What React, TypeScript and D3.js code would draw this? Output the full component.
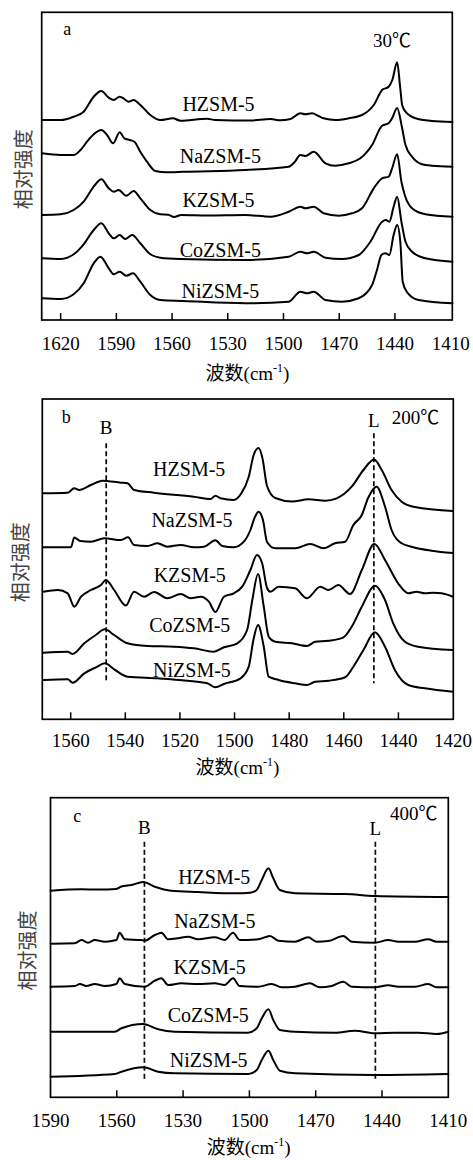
import React from "react";
import * as d3 from "d3";

type Pt = [number, number]; // [wavenumber cm-1, absorbance a.u. above the stacking offset]

const samples = ["HZSM-5", "NaZSM-5", "KZSM-5", "CoZSM-5", "NiZSM-5"];

// ---------- 30 ℃ ----------
const h30: Pt[] = [
  [1630, 0], [1620, 0], [1613, 0.033], [1607.6, 0.083], [1602.2, 0.233], [1598.1, 0.29], [1594.1, 0.223],
  [1591.4, 0.2], [1588.2, 0.233], [1585.7, 0.21], [1583.4, 0.183], [1580.7, 0.2], [1577.1, 0.15], [1571.7, 0.05],
  [1566.4, 0], [1559.5, 0.017], [1555.5, -0.007], [1541.1, 0.013], [1536.7, 0], [1517.9, -0.005], [1507, 0.01],
  [1501.7, -0.003], [1496.3, 0.01], [1490.9, 0.067], [1488.2, 0.057], [1484.6, 0.067], [1481.2, 0.04],
  [1478.4, 0.017], [1472.1, 0], [1464.9, 0.017], [1457.7, 0.05], [1451.4, 0.15], [1446.9, 0.3], [1443.4, 0.333],
  [1441.4, 0.4], [1438.8, 0.577], [1437.3, 0.35], [1436.1, 0.15], [1434.3, 0.083], [1429, 0.017], [1420, -0.01],
  [1409, -0.02],
];
const na30: Pt[] = [
  [1630, 0.017], [1620, 0], [1613, 0], [1609.3, 0.05], [1605.8, 0.133], [1602.2, 0.207], [1598.1, 0.25],
  [1595, 0.2], [1591.8, 0.117], [1588.2, 0.227], [1585.7, 0.167], [1582.8, 0.15], [1580.3, 0.133], [1577.1, 0.033],
  [1573.5, -0.067], [1569, -0.16], [1562.8, -0.173], [1553.7, -0.167], [1520.5, -0.15], [1497.2, -0.117],
  [1494, -0.07], [1490.9, 0], [1488.2, -0.01], [1483.7, 0.033], [1477.4, -0.083], [1472.1, -0.107],
  [1464.9, -0.083], [1458.6, -0.033], [1452.3, 0.1], [1446.9, 0.293], [1443.4, 0.317], [1441.5, 0.367],
  [1438.8, 0.47], [1436.1, 0.267], [1434.3, 0.1], [1430.8, -0.017], [1425.4, -0.093], [1420, -0.107],
  [1409, -0.117],
];
const k30: Pt[] = [
  [1630, 0], [1620, 0.007], [1613, 0.05], [1607.6, 0.133], [1602.2, 0.283], [1598.1, 0.357], [1594.1, 0.267],
  [1591.4, 0.233], [1588.8, 0.25], [1584.6, 0.193], [1580.7, 0.24], [1577.1, 0.167], [1571.7, 0.05],
  [1566.4, 0.007], [1562, 0.003], [1559, -0.02], [1555, 0], [1541, -0.005], [1520.5, 0], [1507, -0.017],
  [1497.2, 0.033], [1490.9, 0.083], [1488.2, 0.067], [1483.7, 0.083], [1478.4, 0.017], [1470.3, -0.007],
  [1463.1, 0.017], [1457.7, 0.067], [1451.4, 0.267], [1446.9, 0.367], [1443.4, 0.383], [1441.5, 0.467],
  [1438.8, 0.607], [1436.5, 0.333], [1434.7, 0.2], [1430.8, 0.067], [1423.6, 0.007], [1409, -0.017],
];
const co30: Pt[] = [
  [1630, 0.007], [1620, 0], [1613, 0.047], [1607.6, 0.147], [1602.2, 0.29], [1598.1, 0.357], [1594.1, 0.257],
  [1591.4, 0.207], [1588.2, 0.24], [1585.2, 0.2], [1581.5, 0.24], [1577.1, 0.157], [1571.7, 0.047],
  [1566.4, 0.013], [1555.5, 0], [1520.5, -0.01], [1497.2, 0.023], [1490.9, 0.073], [1487.3, 0.057],
  [1483.7, 0.073], [1477.4, 0.013], [1468.5, 0], [1459.5, 0.04], [1453.2, 0.173], [1446.9, 0.373],
  [1444.8, 0.39], [1443, 0.373], [1440.7, 0.523], [1438.8, 0.623], [1436.5, 0.373], [1434.3, 0.173],
  [1430.8, 0.073], [1423.6, 0.007], [1409, -0.027],
];
const ni30: Pt[] = [
  [1630, 0.007], [1620, 0], [1613, 0.047], [1607.6, 0.157], [1602.2, 0.357], [1598.6, 0.423], [1594.1, 0.307],
  [1591.4, 0.247], [1588.2, 0.273], [1584.6, 0.233], [1581, 0.257], [1577.1, 0.173], [1571.7, 0.04],
  [1566.4, -0.01], [1553.7, -0.02], [1520.5, -0.043], [1497.2, -0.027], [1490.9, 0.073], [1487.3, 0.057],
  [1483.7, 0.073], [1477.4, -0.01], [1468.5, -0.027], [1459.5, 0.007], [1452.3, 0.14], [1449.5, 0.3],
  [1447.3, 0.44], [1445.1, 0.457], [1443, 0.44], [1440.7, 0.64], [1438.8, 0.74], [1437.1, 0.573],
  [1435.8, 0.173], [1433.4, 0.067], [1427.2, -0.01], [1409, -0.043],
];
const offsets30 = [2.0, 1.65, 1.05, 0.61, 0.21];
const labels30 = [2.09, 1.57, 1.133, 0.633, 0.217];
const ticks30 = [1620, 1590, 1560, 1530, 1500, 1470, 1440, 1410];

// ---------- 200 ℃ ----------
const h200: Pt[] = [
  [1570, 0], [1561.1, 0.006], [1558.7, 0.05], [1556.9, 0.033], [1552.6, 0.083], [1548.3, 0.126],
  [1541.6, 0.106], [1539.2, 0.1], [1536.8, 0.033], [1529.5, 0.006], [1514.9, -0.034], [1508.8, -0.057],
  [1507, -0.024], [1505.1, -0.05], [1500.3, -0.067], [1497.5, 0], [1494.8, 0.166], [1493, 0.383],
  [1491.2, 0.453], [1489.8, 0.353], [1488.1, 0.073], [1485.1, -0.047], [1479, -0.082], [1472.9, -0.06],
  [1466.8, -0.074], [1462.6, -0.05], [1457.1, 0.066], [1452.8, 0.233], [1448.9, 0.338], [1446.1, 0.233],
  [1442.5, 0.033], [1438.8, -0.084], [1434, -0.137], [1420, -0.177],
];
const na200: Pt[] = [
  [1570, 0], [1559.9, 0], [1558.7, 0.098], [1556.5, 0.063], [1552.6, 0.056], [1547.7, 0.09], [1541.6, 0.073],
  [1539, 0.1], [1536.8, 0.023], [1531.9, 0.013], [1528.2, 0.04], [1524.6, 0.006], [1519.7, 0.023],
  [1514.9, 0], [1511.2, 0.006], [1507, 0.07], [1504.5, 0.013], [1500.3, 0], [1496.6, 0.056], [1494.2, 0.173],
  [1492.7, 0.293], [1491.2, 0.356], [1489.6, 0.273], [1488.1, 0.053], [1485.1, -0.01], [1477.8, -0.01],
  [1472.3, 0.033], [1467.4, -0.01], [1463.2, 0.04], [1459.5, 0.056], [1456.5, 0.223], [1453.4, 0.323],
  [1451.1, 0.493], [1448, 0.606], [1444.9, 0.406], [1442.5, 0.173], [1438.8, 0.04], [1435.2, 0.006],
  [1427.9, -0.034], [1420, -0.057],
];
const k200: Pt[] = [
  [1570, 0], [1564.7, 0.017], [1561.1, -0.016], [1558.7, -0.15], [1556.2, -0.05], [1552.6, 0.017],
  [1548.9, 0.067], [1547.1, 0.117], [1544.1, 0.017], [1539.8, -0.138], [1536.8, 0], [1533.1, -0.05],
  [1529.5, -0.003], [1524.6, -0.066], [1519.7, -0.023], [1516.1, -0.066], [1512.4, -0.05], [1509.4, -0.1],
  [1507, -0.203], [1503.9, -0.05], [1500.3, -0.016], [1497.2, 0.05], [1494.2, 0.217], [1491.8, 0.367],
  [1489.9, 0.284], [1488.1, 0.037], [1486.9, 0], [1483.9, 0.05], [1477.8, 0.034], [1473.5, -0.066],
  [1468.6, 0.05], [1465.6, 0.017], [1462, 0.067], [1457.7, -0.023], [1453.4, 0.217], [1448.8, 0.477],
  [1444.9, 0.317], [1440.1, 0.084], [1436.4, -0.016], [1433.4, 0], [1430.3, -0.016], [1427.3, -0.01],
  [1424.2, -0.016], [1420, -0.05],
];
const co200: Pt[] = [
  [1570, 0], [1561.1, 0.01], [1559.3, -0.013], [1555, 0.094], [1550.8, 0.177], [1547.5, 0.234],
  [1544.1, 0.177], [1539.2, 0.094], [1531.9, 0.067], [1522.2, 0.06], [1514.9, 0.044], [1507.6, 0.01],
  [1503.9, 0.054], [1499, 0.094], [1495.4, 0.227], [1493.5, 0.527], [1491.4, 0.787], [1489.3, 0.46],
  [1487.5, 0.16], [1485.1, 0.11], [1479, 0.094], [1473.5, 0.067], [1470.5, 0.11], [1465.6, 0.12],
  [1460.1, 0.154], [1457.1, 0.26], [1453.4, 0.46], [1448.6, 0.67], [1444.9, 0.527], [1441.9, 0.294],
  [1437.6, 0.11], [1432.8, 0.06], [1420, 0.027],
];
const ni200: Pt[] = [
  [1570, 0], [1561.1, 0.007], [1559.3, -0.027], [1555, 0.067], [1550.8, 0.127], [1547.5, 0.167],
  [1544.1, 0.107], [1539.2, 0.033], [1528.2, 0.017], [1517.3, -0.007], [1510, -0.033], [1507, -0.073],
  [1503.9, -0.04], [1497.8, 0.017], [1494.8, 0.133], [1493.1, 0.4], [1491.4, 0.55], [1489.3, 0.333],
  [1487.5, 0.033], [1483.9, 0], [1477.8, -0.033], [1473.5, -0.05], [1470.5, -0.017], [1465.6, -0.007],
  [1459.5, 0.027], [1456.5, 0.133], [1452.8, 0.3], [1448.6, 0.477], [1444.9, 0.333], [1441.3, 0.1],
  [1436.4, -0.05], [1430.3, -0.083], [1420, -0.117],
];
const offsets200 = [2.26, 1.72, 1.276, 0.666, 0.393];
const labels200 = [2.436, 1.926, 1.376, 0.876, 0.426];
const ticks200 = [1560, 1540, 1520, 1500, 1480, 1460, 1440, 1420];

// ---------- 400 ℃ ----------
const h400: Pt[] = [
  [1590, 0], [1576, 0.014], [1568.5, 0.012], [1560.2, 0.017], [1557.9, 0.042], [1553.4, 0.057],
  [1548.1, 0.087], [1542.8, 0.04], [1535.3, 0], [1523.2, -0.013], [1506.6, -0.026], [1499.7, -0.02],
  [1496.7, 0.007], [1494.4, 0.107], [1491.4, 0.224], [1489.2, 0.124], [1486.2, 0.007], [1479.4, -0.026],
  [1456.8, -0.033], [1443.2, -0.053], [1410, -0.063],
];
const na400: Pt[] = [
  [1590, 0], [1579, 0.004], [1576, 0.037], [1573, 0.01], [1570, 0.037], [1565.4, 0.02], [1560.2, 0.037],
  [1558.7, 0.11], [1556.4, 0.044], [1548.9, 0.037], [1547.4, 0.03], [1542.8, 0.087], [1539.8, 0.11],
  [1536.8, 0.044], [1532.3, 0.054], [1527.8, 0.07], [1523.2, 0.044], [1515.7, 0.064], [1511.2, 0.037],
  [1507.4, 0.11], [1504.4, 0.037], [1496, 0.044], [1490.7, 0.077], [1486.9, 0.03], [1479.4, 0.02],
  [1473.4, 0.064], [1469.6, 0.02], [1464.3, 0.027], [1457.5, 0.077], [1453.7, 0.02], [1443.2, 0.01],
  [1437.2, 0.037], [1432.6, 0.02], [1425.1, 0.02], [1419.1, 0.044], [1415.3, 0.02], [1410, 0.02],
];
const k400: Pt[] = [
  [1590, 0], [1579, 0.007], [1576.7, 0.027], [1573.8, 0.007], [1570, 0.027], [1565.4, 0.007], [1560.2, 0.027],
  [1558.7, 0.084], [1556.4, 0.027], [1547.4, 0], [1542.8, 0.06], [1539.8, 0.084], [1536.8, 0.017],
  [1530.8, 0.034], [1523.2, 0.027], [1515.7, 0.034], [1511.2, 0.017], [1507.4, 0.084], [1504.4, 0.007],
  [1496, 0], [1489.9, 0.027], [1485.4, -0.006], [1479.4, 0], [1472.6, 0.034], [1468.1, -0.006],
  [1462.8, 0.007], [1457.5, 0.05], [1453.7, 0], [1443.2, -0.006], [1437.2, 0.014], [1432.6, 0],
  [1425.1, 0], [1419.1, 0.027], [1415.3, -0.006], [1410, -0.006],
];
const co400: Pt[] = [
  [1590, 0], [1560.9, 0], [1557.9, 0.034], [1548.1, 0.077], [1541.3, 0.024], [1533.8, 0], [1500.6, -0.01],
  [1496.7, 0.034], [1494.4, 0.134], [1491.4, 0.224], [1489.2, 0.117], [1486.2, 0.017], [1479.4, 0],
  [1461.3, -0.01], [1452.2, 0.01], [1443.2, -0.016], [1434.1, -0.01], [1423.6, -0.01], [1415.3, -0.023],
  [1410, 0],
];
const ni400: Pt[] = [
  [1590, 0], [1560.9, 0.027], [1557.9, 0.05], [1548.1, 0.094], [1541.3, 0.05], [1533.8, 0.034],
  [1500.6, 0.027], [1496.7, 0.067], [1494.4, 0.167], [1491.4, 0.26], [1489.2, 0.167], [1486.2, 0.06],
  [1479.4, 0.034], [1443.2, 0.017], [1410, 0.027],
];
const offsets400 = [2.066, 1.536, 1.106, 0.656, 0.206];
const labels400 = [2.13, 1.69, 1.23, 0.756, 0.306];
const ticks400 = [1590, 1560, 1530, 1500, 1470, 1440, 1410];

// Brønsted (B) and Lewis (L) pyridine band positions
const bandB = 1547;
const bandL200 = 1449;
const bandL400 = 1443;

const SERIF = "'Liberation Serif', 'Times New Roman', serif";
const CJK = "'Noto Sans CJK SC', sans-serif";
const TEMP_FONT = "'Liberation Serif', 'Noto Sans CJK SC', serif";

interface Marker { label: string; wn: number; top: number; bottom: number; textY: number }
interface PanelSpec {
  letter: string; temp: string;
  series: Pt[][]; offsets: number[]; labelY: number[]; labelWn: number[];
  xDomain: [number, number]; yMax: number; ticks: number[];
  left: number; right: number; top: number; bottom: number;
  tickLabelDy: number; titleX: number; titleY: number; yTitleX: number;
  letterPos: [number, number]; tempPos: [number, number];
  markers: Marker[];
}

const panels: PanelSpec[] = [
  {
    letter: "a", temp: "30℃",
    series: [h30, na30, k30, co30, ni30], offsets: offsets30, labelY: labels30,
    labelWn: [1535, 1534, 1535, 1534, 1534],
    xDomain: [1630.2, 1409.1], yMax: 3.077, ticks: ticks30,
    left: 41.7, right: 452.3, top: 12.3, bottom: 320,
    tickLabelDy: 30, titleX: 247.5, titleY: 380, yTitleX: 22,
    letterPos: [63.3, 35], tempPos: [373, 46.7], markers: [],
  },
  {
    letter: "b", temp: "200℃",
    series: [h200, na200, k200, co200, ni200], offsets: offsets200, labelY: labels200,
    labelWn: [1516.6, 1515.6, 1516.4, 1516.4, 1515.6],
    xDomain: [1570.4, 1419.9], yMax: 3.203, ticks: ticks200,
    left: 42.3, right: 453.3, top: 399, bottom: 719.3,
    tickLabelDy: 27.5, titleX: 237.5, titleY: 774, yTitleX: 19.5,
    letterPos: [61.7, 422.7], tempPos: [391.7, 424],
    markers: [
      { label: "B", wn: bandB, top: 2.76, bottom: 0.376, textY: 434 },
      { label: "L", wn: bandL200, top: 2.86, bottom: 0.36, textY: 426.7 },
    ],
  },
  {
    letter: "c", temp: "400℃",
    series: [h400, na400, k400, co400, ni400], offsets: offsets400, labelY: labels400,
    labelWn: [1515.9, 1515.6, 1518, 1518.6, 1518.4],
    xDomain: [1590, 1410], yMax: 2.996, ticks: ticks400,
    left: 50.5, right: 448.3, top: 797.7, bottom: 1097.3,
    tickLabelDy: 29.3, titleX: 248.7, titleY: 1154, yTitleX: 26.5,
    letterPos: [73.3, 822.3], tempPos: [390, 820],
    markers: [
      { label: "B", wn: bandB + 0.5, top: 2.556, bottom: 0.156, textY: 834.3 },
      { label: "L", wn: bandL400, top: 2.556, bottom: 0.173, textY: 835 },
    ],
  },
];

function Panel({ p }: { p: PanelSpec }) {
  const x = d3.scaleLinear().domain(p.xDomain).range([p.left, p.right]);
  const y = d3.scaleLinear().domain([0, p.yMax]).range([p.bottom, p.top]);
  const innerTicks = p.ticks.filter((t) => x(t) > p.left + 3 && x(t) < p.right - 3);
  const midY = (p.top + p.bottom) / 2;

  return (
    <g>
      {p.series.map((s, i) => {
        const off = p.offsets[i];
        const line = d3
          .line<Pt>()
          .x((d) => x(d[0]))
          .y((d) => y(off + d[1]))
          .curve(d3.curveMonotoneX);
        return (
          <path key={samples[i]} d={line(s) ?? ""} fill="none" stroke="#000"
            strokeWidth={2} strokeLinejoin="round" strokeLinecap="round" />
        );
      })}

      {p.markers.map((m) => (
        <g key={m.label}>
          <line x1={x(m.wn)} x2={x(m.wn)} y1={y(m.top)} y2={y(m.bottom)}
            stroke="#000" strokeWidth={1.7} strokeDasharray="5,3" />
          <text x={x(m.wn)} y={m.textY} textAnchor="middle" fontFamily={SERIF} fontSize={19}>{m.label}</text>
        </g>
      ))}

      {samples.map((name, i) => (
        <text key={name} x={x(p.labelWn[i])} y={y(p.labelY[i])} textAnchor="middle"
          fontFamily={SERIF} fontSize={20}>{name}</text>
      ))}

      <text x={p.letterPos[0]} y={p.letterPos[1]} fontFamily={SERIF} fontSize={18}>{p.letter}</text>
      <text x={p.tempPos[0]} y={p.tempPos[1]} fontFamily={TEMP_FONT} fontSize={19}>{p.temp}</text>

      <rect x={p.left} y={p.top} width={p.right - p.left} height={p.bottom - p.top}
        fill="none" stroke="#000" strokeWidth={1.7} />

      {innerTicks.map((t) => (
        <line key={t} x1={x(t)} x2={x(t)} y1={p.bottom} y2={p.bottom - 7} stroke="#000" strokeWidth={1.5} />
      ))}
      {p.ticks.map((t) => (
        <text key={t} x={x(t)} y={p.bottom + p.tickLabelDy} textAnchor="middle"
          fontFamily={SERIF} fontSize={19}>{t}</text>
      ))}

      <text x={p.titleX} y={p.titleY} textAnchor="middle" fontSize={19}>
        <tspan fontFamily={CJK}>波数</tspan>
        <tspan fontFamily={SERIF}>(cm</tspan>
        <tspan fontFamily={SERIF} fontSize={12} dy={-8}>-1</tspan>
        <tspan fontFamily={SERIF} dy={8}>)</tspan>
      </text>

      <text transform={`translate(${p.yTitleX},${midY + 3}) rotate(-90)`} textAnchor="middle"
        dominantBaseline="central" fontFamily={CJK} fontSize={20} fill="#444">相对强度</text>
    </g>
  );
}

export default function App() {
  return (
    <svg width={473} height={1160} viewBox="0 0 473 1160"
      style={{ position: "absolute", left: 0, top: 0, background: "#fff" }}>
      <rect x={0} y={0} width={473} height={1160} fill="#fff" />
      {panels.map((p) => (
        <Panel key={p.letter} p={p} />
      ))}
    </svg>
  );
}
